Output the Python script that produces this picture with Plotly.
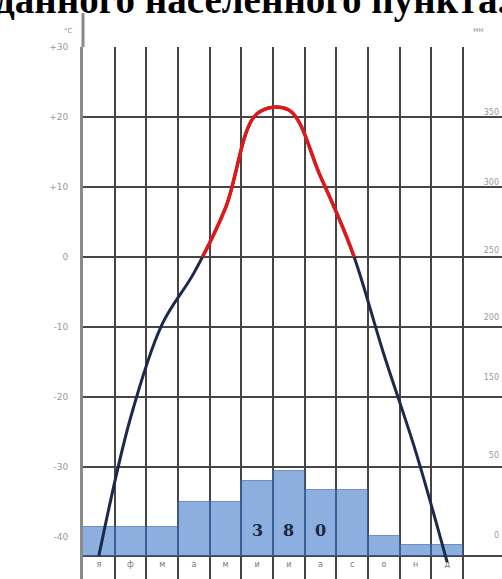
import plotly.graph_objects as go

# ---------------- data ----------------
title_text = "данного населенного пункта."
months = ["я", "ф", "м", "а", "м", "и", "и", "а", "с", "о", "н", "д"]
temps = [-42.7, -23.0, -9.6, -2.3, 7.0, 20.5, 21.0, 11.5, 0.8, -13.9, -27.7, -43.6]
precip = [21, 21, 21, 39, 39, 54, 61, 47, 47, 14, 8, 8]
temp_ticks = [-40, -30, -20, -10, 0, 10, 20, 30]
temp_tick_text = ["-40", "-30", "-20", "-10", "0", "+10", "+20", "+30"]
temp_grid = [-30, -20, -10, 0, 10, 20, 30]
right_labels = ["350", "300", "250", "200", "150", "50", "0"]
right_label_pos_mm = [318, 268, 219, 171, 128, 72, 15]

# ---------------- layout geometry ----------------
W, H = 502, 579
L_M, T_M = 83, 47
PX_PER_MONTH = 380 / 12
PX_PER_DEG = 7.0
PX_PER_MM = 1.395
BASE_PX = 556  # pixel row of 0 mm
plot_w = W - L_M
plot_h = H - T_M
x_max = plot_w / PX_PER_MONTH
t_top = 30
t_bot = t_top - plot_h / PX_PER_DEG
mm_bot = -(H - BASE_PX) / PX_PER_MM
mm_top = (BASE_PX - T_M) / PX_PER_MM
zero_frac = (0 - t_bot) / (t_top - t_bot)
label_t = t_bot + (H - 565) / PX_PER_DEG

x_centers = [i + 0.5 for i in range(len(months))]
boundaries = list(range(1, len(months) + 1))

fig = go.Figure()

# dummy trace for the main subplot (left labels)
fig.add_trace(go.Scatter(x=[None], y=[None], xaxis="x", yaxis="y",
                         showlegend=False, hoverinfo="skip"))

# precipitation bars
fig.add_trace(go.Bar(
    x=x_centers, y=precip, width=1, yaxis="y2",
    marker=dict(color="rgba(50,112,200,0.56)",
                line=dict(color="rgba(60,95,160,0.6)", width=1)),
    showlegend=False, hoverinfo="skip"))

# temperature curve: full (cold colour) ...
fig.add_trace(go.Scatter(
    x=x_centers, y=temps, yaxis="y3", mode="lines",
    line=dict(color="#1b2a4a", width=3, shape="spline", smoothing=1.0),
    showlegend=False, hoverinfo="skip"))
# ... and warm colour, clipped to the region above 0 °C
fig.add_trace(go.Scatter(
    x=x_centers, y=temps, yaxis="y4", mode="lines",
    line=dict(color="#e0181a", width=3.5, shape="spline", smoothing=1.0),
    showlegend=False, hoverinfo="skip"))

# month labels
fig.add_trace(go.Scatter(
    x=x_centers, y=[label_t] * len(months), yaxis="y3", mode="text",
    text=months, textposition="middle center", cliponaxis=False,
    textfont=dict(family="DejaVu Sans", size=8, color="#777"),
    showlegend=False, hoverinfo="skip"))

annotations = []
total = str(sum(precip))
for k, ch in enumerate(total):
    annotations.append(dict(
        x=x_centers[5 + k], y=18, xref="x", yref="y2", text="<b>" + ch + "</b>",
        showarrow=False,
        font=dict(family="DejaVu Serif", size=16, color="#1a2744"),
        xanchor="center", yanchor="middle"))
annotations.append(dict(
    x=(62 - L_M) / plot_w, y=1 + (T_M - 25) / plot_h, xref="paper", yref="paper",
    text="°С", showarrow=False, font=dict(family="DejaVu Sans", size=7, color="#999")))
annotations.append(dict(
    x=(486 - L_M) / plot_w, y=1 + (T_M - 24) / plot_h, xref="paper", yref="paper",
    text="мм", showarrow=False, font=dict(family="DejaVu Sans", size=7, color="#999")))
annotations.append(dict(
    x=(251 - L_M) / plot_w, y=1 + T_M / plot_h, xref="paper", yref="paper",
    text="<b>" + title_text + "</b>", showarrow=False,
    xanchor="center", yanchor="middle",
    font=dict(family="Liberation Serif", size=39, color="black")))

shapes = [dict(type="line", xref="paper", yref="paper", x0=0, x1=0,
               y0=1, y1=1 + (T_M - 13) / plot_h,
               line=dict(color="#8a8a8a", width=3))]

grid_col = "#454545"
fig.update_layout(
    width=W, height=H,
    margin=dict(l=L_M, r=0, t=T_M, b=0, autoexpand=False),
    paper_bgcolor="white", plot_bgcolor="rgba(0,0,0,0)",
    xaxis=dict(range=[0, x_max], showticklabels=False, showgrid=False,
               zeroline=False, showline=False, ticks="", automargin=False,
               minor=dict(tickvals=boundaries, showgrid=True, gridcolor=grid_col,
                          gridwidth=2, ticks="")),
    yaxis=dict(range=[t_bot, t_top], tickvals=temp_ticks, ticktext=temp_tick_text,
               showgrid=False, zeroline=False, showline=True, linecolor="#8a8a8a",
               linewidth=3, ticks="", ticklabelstandoff=10, automargin=False,
               tickfont=dict(family="DejaVu Sans", size=9, color="#999")),
    yaxis2=dict(overlaying="y", side="right", range=[mm_bot, mm_top],
                tickvals=right_label_pos_mm, ticktext=right_labels,
                ticklabelposition="inside", showgrid=False, zeroline=True,
                zerolinecolor=grid_col, zerolinewidth=2, ticks="", showline=False,
                automargin=False,
                tickfont=dict(family="DejaVu Sans", size=8, color="#999")),
    yaxis3=dict(overlaying="y", side="left", range=[t_bot, t_top],
                tickvals=temp_grid, showgrid=True, gridcolor=grid_col, gridwidth=2,
                showticklabels=False, zeroline=False, showline=False, ticks="",
                automargin=False),
    yaxis4=dict(domain=[zero_frac, 1], range=[0, t_top], anchor="x", visible=False,
                showgrid=False, zeroline=False, automargin=False),
    annotations=annotations, shapes=shapes,
    bargap=0,
)

fig.write_html("out.html", config={"displayModeBar": False},
               post_script="document.body.style.margin='0';"
                           "document.body.style.overflow='hidden';")
